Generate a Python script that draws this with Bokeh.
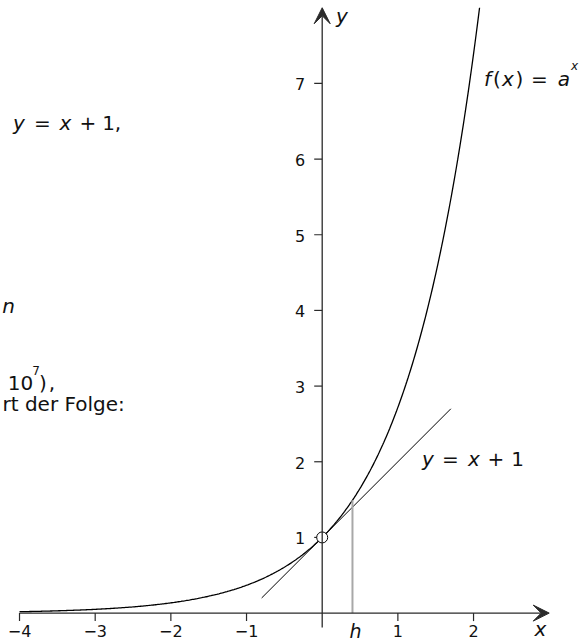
import numpy as np
from bokeh.plotting import figure
from bokeh.models import Range1d, Arrow, VeeHead, Label
from bokeh.embed import file_html
from bokeh.resources import INLINE

# ---- data -------------------------------------------------------------
a = np.e                      # base of f(x) = a^x (tangent at 0 is y = x + 1)
x_ticks = [-4, -3, -2, -1, 1, 2]
x_tick_labels = ["\u22124", "\u22123", "\u22122", "\u22121", "1", "2"]
y_ticks = [1, 2, 3, 4, 5, 6, 7]
y_tick_labels = ["1", "2", "3", "4", "5", "6", "7"]
h = 0.4                       # marked abscissa h
tangent_x = [-0.8, 1.7]       # visible part of the tangent y = x + 1
x_min, x_max = -4.0, 3.0      # x axis extent
y_max = 8.0                   # y axis extent

# ---- canvas / scales --------------------------------------------------
W, H = 583, 641
UNIT = 75.67                  # pixels per unit on both axes
OX, OY = 321.7, 612.6         # pixel position of the origin

p = figure(width=W, height=H, output_backend="svg", toolbar_location=None,
           x_axis_type=None, y_axis_type=None, min_border=0,
           x_range=Range1d(-OX / UNIT, (W - OX) / UNIT),
           y_range=Range1d(-(H - OY) / UNIT, OY / UNIT))
p.grid.visible = False
p.outline_line_color = None
p.background_fill_color = "white"
p.border_fill_color = "white"

FONT = "DejaVu Sans"
AX = "#2a2a2a"
TXT = "#111111"

# ---- axes with arrow heads -------------------------------------------
p.add_layout(Arrow(end=VeeHead(size=16, fill_color=AX, line_color=AX),
                   x_start=x_min, y_start=0, x_end=x_max, y_end=0,
                   line_color=AX, line_width=1.3))
p.add_layout(Arrow(end=VeeHead(size=16, fill_color=AX, line_color=AX),
                   x_start=0, y_start=-0.19, x_end=0, y_end=y_max,
                   line_color=AX, line_width=1.3))

# tick marks
tick_down = 8 / UNIT
tick_left = 8 / UNIT
p.segment(x0=x_ticks, y0=[0] * len(x_ticks), x1=x_ticks, y1=[-tick_down] * len(x_ticks),
          line_color=AX, line_width=1.2)
p.segment(x0=[-tick_left] * len(y_ticks), y0=y_ticks, x1=[0] * len(y_ticks), y1=y_ticks,
          line_color=AX, line_width=1.2)

# tick labels
p.text(x=x_ticks, y=[0] * len(x_ticks), text=x_tick_labels, y_offset=18,
       text_align="center", text_baseline="alphabetic",
       text_font={"value": FONT}, text_font_size="16px", text_color=TXT)
p.text(x=[0] * len(y_ticks), y=y_ticks, text=y_tick_labels, x_offset=-17, y_offset=1,
       text_align="right", text_baseline="alphabetic",
       text_font={"value": FONT}, text_font_size="16px", text_color=TXT)

# ---- graphs -----------------------------------------------------------
xs = np.linspace(x_min, np.log(y_max) / np.log(a), 400)
p.line(xs, a ** xs, line_color="black", line_width=1.3)

tx = np.array(tangent_x)
p.line(tx, tx + 1, line_color="black", line_width=1.0)

# vertical segment at x = h up to the curve
p.segment(x0=[h], y0=[0], x1=[h], y1=[a ** h], line_color="#a8a8a8", line_width=2)

# point (0, 1)
p.scatter(x=[0], y=[a ** 0], size=11, fill_color="white", line_color="black", line_width=1)

# label h under the axis
p.text(x=[h], y=[0], text=["h"], x_offset=3, y_offset=18,
       text_align="center", text_baseline="alphabetic", text_font={"value": FONT},
       text_font_size="19px", text_font_style="italic", text_color=TXT)


def put(px, py, txt, italic=False, size=20, align="center"):
    """Place a text piece with its baseline at about screen pixel row py."""
    p.add_layout(Label(x=px, y=H - py + 5, x_units="screen", y_units="screen", text=txt,
                       text_font=FONT, text_font_size=f"{size}px",
                       text_font_style="italic" if italic else "normal",
                       text_align=align, text_baseline="alphabetic", text_color=TXT))


# axis names
put(341.5, 20, "y", italic=True)
put(540, 633, "x", italic=True)

# f(x) = a^x
put(487, 83, "f", italic=True)
put(496.5, 83, "(")
put(507.5, 83, "x", italic=True)
put(519, 83, ")")
put(539, 83, "=")
put(563.5, 83, "a", italic=True)
put(574, 70, "x", italic=True, size=12)

# y = x + 1 next to the tangent
put(427.5, 463, "y", italic=True)
put(450, 463, "=")
put(473.5, 463, "x", italic=True)
put(495.5, 463, "+")
put(517, 463, "1")

# running text at the left margin
put(18.5, 127, "y", italic=True)
put(42, 127, "=")
put(65, 127, "x", italic=True)
put(87.5, 127, "+")
put(108, 127, "1")
put(117.5, 127, ",")
put(8, 310, "n", italic=True)
put(20, 387, "10")
put(35.5, 375, "7", size=12)
put(42.5, 387, ")")
put(51.5, 387, ",")
put(2, 408, "rt der Folge:", align="left")

open("out.html", "w").write(file_html(p, INLINE))
